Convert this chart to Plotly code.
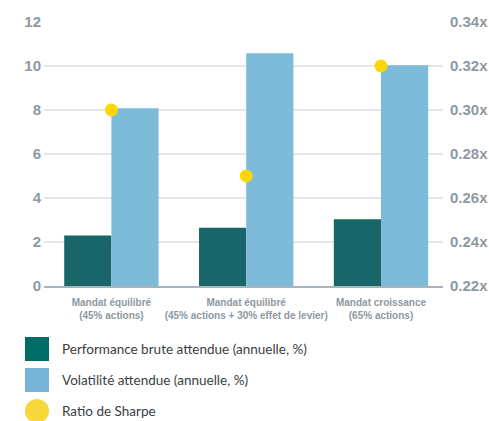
import plotly.graph_objects as go

categories = ["Mandat équilibré<br>(45% actions)",
              "Mandat équilibré<br>(45% actions + 30% effet de levier)",
              "Mandat croissance<br>(65% actions)"]
performance = [2.3, 2.65, 3.03]
volatilite = [8.08, 10.58, 10.03]
sharpe = [0.30, 0.27, 0.32]
legend_labels = ["Performance brute attendue (annuelle, %)",
                 "Volatilité attendue (annuelle, %)",
                 "Ratio de Sharpe"]

C_DARK = "#19666a"
C_LIGHT = "#7dbbd9"
C_YEL = "#fcd800"
C_TICK = "#8f98a1"

fig = go.Figure()
fig.add_bar(x=categories, y=performance, marker_color=C_DARK, offsetgroup="a",
            showlegend=False, name=legend_labels[0], marker_line_width=0)
fig.add_bar(x=categories, y=volatilite, marker_color=C_LIGHT, offsetgroup="b",
            showlegend=False, name=legend_labels[1], marker_line_width=0)
fig.add_scatter(x=categories, y=sharpe, yaxis="y2", mode="markers",
                marker=dict(color=C_YEL, size=13, line_width=0),
                showlegend=False, name=legend_labels[2])

fig.update_layout(
    width=489, height=421,
    margin=dict(l=44, r=46, t=22, b=135),
    paper_bgcolor="white", plot_bgcolor="white",
    barmode="group", bargap=0.30, bargroupgap=0,
    font=dict(family="Liberation Sans, Arial", color=C_TICK),
    xaxis=dict(range=[-0.5, 2.46], showline=True, linecolor="#aab1b8", linewidth=1.5,
               ticks="", tickfont=dict(size=10, color=C_TICK, weight="bold"), showgrid=False,
               ticklabelstandoff=6, automargin=False),
    yaxis=dict(range=[0, 12], dtick=2, showgrid=True, gridcolor="#e3e7ec", gridwidth=1.5,
               zeroline=False, tickfont=dict(size=15, color=C_TICK, weight="bold"),
               ticklabelstandoff=2, automargin=False),
    yaxis2=dict(range=[0.22, 0.34], dtick=0.02, overlaying="y", side="right",
                showgrid=False, zeroline=False, tickformat=".2f", ticksuffix="x",
                tickfont=dict(size=15, color=C_TICK, weight="bold"), ticklabelstandoff=6,
                automargin=False),
)

# manual legend
leg_y = [349, 380, 411]
for i, (lab, col) in enumerate(zip(legend_labels, ["#016b66", "#76b4d7", "#f6d83c"])):
    y0 = 421 - leg_y[i] - 12
    y1 = 421 - leg_y[i] + 12
    fig.add_shape(type="circle" if i == 2 else "rect", xref="paper", yref="paper",
                  x0=(25 - 44) / 399, x1=(49 - 44) / 399,
                  y0=(y0 - 135) / 264, y1=(y1 - 135) / 264,
                  fillcolor=col, line_width=0)
    fig.add_annotation(text=lab, xref="paper", yref="paper", showarrow=False,
                       x=(60 - 44) / 399, y=(421 - leg_y[i] - 135) / 264,
                       xanchor="left", yanchor="middle",
                       font=dict(family="Lato, Noto Sans", size=13.5, color="#3a3d40"))

fig.write_html("out.html")
